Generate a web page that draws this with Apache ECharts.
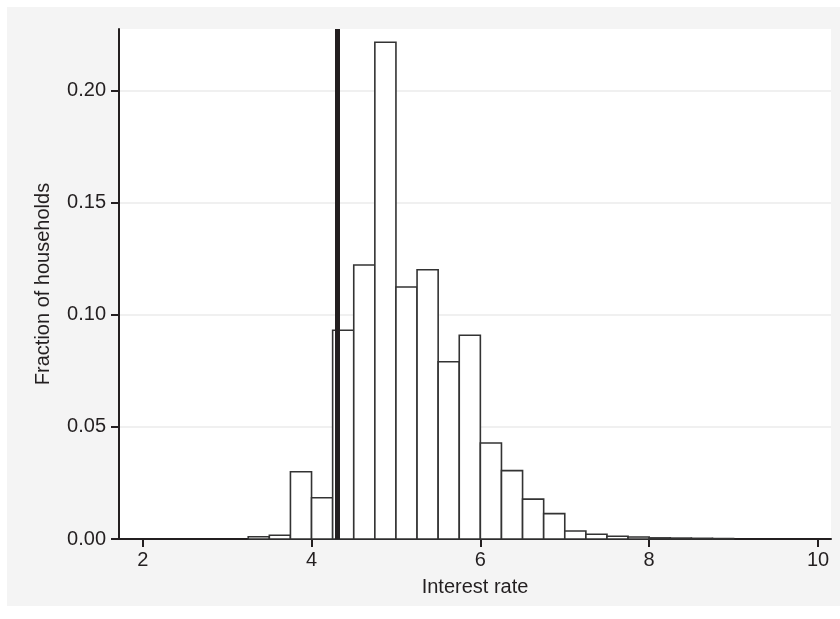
<!DOCTYPE html>
<html>
<head>
<meta charset="utf-8">
<script src="https://cdn.jsdelivr.net/npm/echarts@6/dist/echarts.min.js"></script>
<style>
html, body { margin: 0; padding: 0; background: #fff; }
#chart { position: absolute; left: 7px; top: 7px; width: 833px; height: 599px; background: #f4f4f4; }
</style>
</head>
<body>
<div id="chart"></div>
<script>
// histogram bins (left edge, width 0.25) and fraction of households
var binLeft = [3.25, 3.5, 3.75, 4.0, 4.25, 4.5, 4.75, 5.0, 5.25, 5.5, 5.75, 6.0,
               6.25, 6.5, 6.75, 7.0, 7.25, 7.5, 7.75, 8.0, 8.25, 8.5, 8.75];
var binWidth = 0.25;
var fractions = [0.001, 0.0017, 0.030, 0.0184, 0.0931, 0.1222, 0.2216, 0.1124, 0.1201, 0.0791, 0.0909, 0.0428,
                 0.0305, 0.0178, 0.0113, 0.0036, 0.0021, 0.0012, 0.0009, 0.0005, 0.0004, 0.0003, 0.0002];
var xTicks = [2, 4, 6, 8, 10];
var yTicks = [0, 0.05, 0.10, 0.15, 0.20];
var refRate = 4.31;

var ink = '#231f20';
var font = 'Liberation Sans, Arial, Helvetica, sans-serif';

var hist_data = [];
for (var i = 0; i < binLeft.length; ++i) {
    hist_data.push([binLeft[i], binLeft[i] + binWidth, fractions[i]]);
}

var option = {
    animation: false,
    grid: {
        left: 112,
        top: 22,
        width: 712,
        height: 510,
        show: true,
        backgroundColor: '#fff',
        borderWidth: 0
    },
    xAxis: {
        type: 'value',
        min: 1.719,
        max: 10.154,
        name: 'Interest rate',
        nameLocation: 'middle',
        nameGap: 38,
        nameTextStyle: { color: ink, fontSize: 20, fontFamily: font },
        axisLine: { show: true, onZero: false, lineStyle: { color: ink, width: 2 } },
        axisTick: { show: true, customValues: xTicks, length: 8, lineStyle: { color: ink, width: 2 } },
        axisLabel: { customValues: xTicks, color: ink, fontSize: 20, fontFamily: font, margin: 11 },
        splitLine: { show: false }
    },
    yAxis: {
        type: 'value',
        min: 0,
        max: 0.2275,
        interval: 0.05,
        name: 'Fraction of households',
        nameLocation: 'middle',
        nameGap: 66,
        nameTextStyle: { color: ink, fontSize: 20, fontFamily: font },
        axisLine: { show: true, lineStyle: { color: ink, width: 2 } },
        axisTick: { show: true, customValues: yTicks, length: 8, lineStyle: { color: ink, width: 2 } },
        axisLabel: {
            customValues: yTicks,
            color: ink, fontSize: 20, fontFamily: font, margin: 13,
            formatter: function (v) { return v.toFixed(2); }
        },
        splitLine: { show: true, lineStyle: { color: '#ebebeb', width: 1.5 } }
    },
    series: [
        {
            type: 'custom',
            data: hist_data,
            renderItem: function (params, api) {
                var p0 = api.coord([api.value(0), api.value(2)]);
                var p1 = api.coord([api.value(1), 0]);
                return {
                    type: 'rect',
                    shape: { x: p0[0], y: p0[1], width: p1[0] - p0[0], height: p1[1] - p0[1] },
                    style: { fill: '#fff', stroke: '#333', lineWidth: 1.6 }
                };
            },
            encode: { x: [0, 1], y: 2 },
            markLine: {
                silent: true,
                symbol: 'none',
                label: { show: false },
                lineStyle: { color: ink, width: 5, type: 'solid' },
                data: [{ xAxis: refRate }]
            }
        }
    ]
};

var chart = echarts.init(document.getElementById('chart'));
chart.setOption(option);
</script>
</body>
</html>
